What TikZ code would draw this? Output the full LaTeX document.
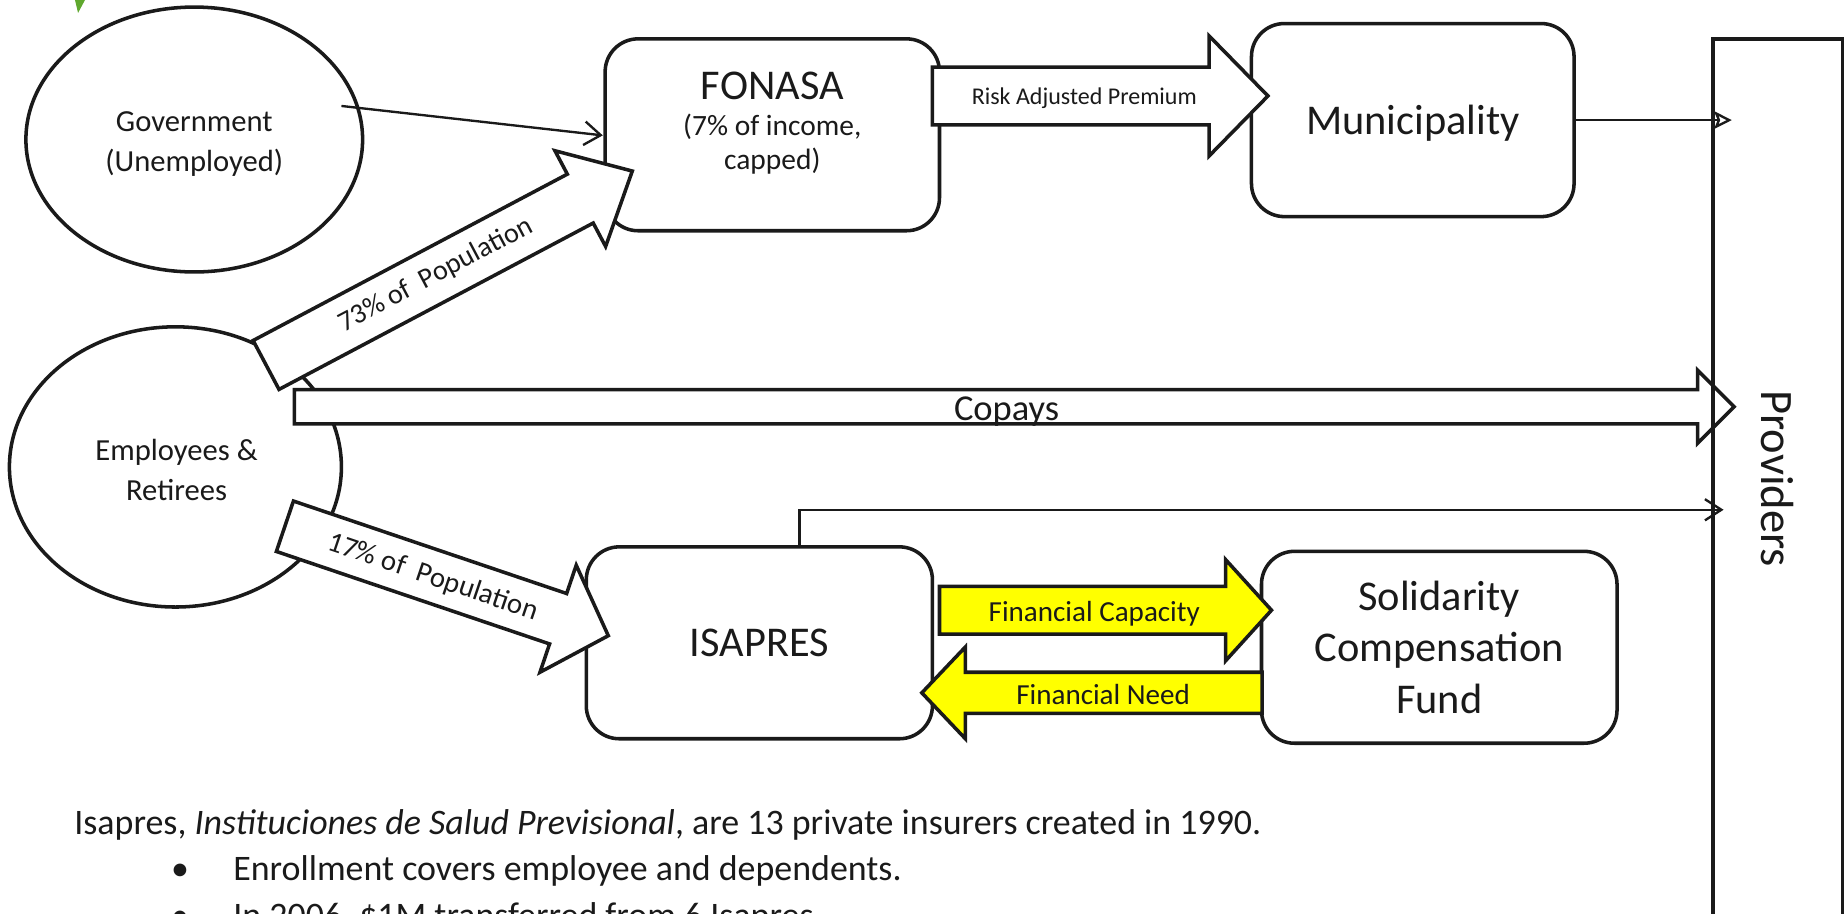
\documentclass[tikz,border=0pt]{standalone}
\usepackage{fontspec}
\setmainfont{Carlito}
\usetikzlibrary{arrows.meta,shapes.geometric}
\definecolor{ink}{HTML}{1A1A1A}
\definecolor{hiyellow}{HTML}{FFFF00}
\definecolor{leafgreen}{HTML}{5FA82E}
\newcommand{\fsz}[2]{\fontsize{#1}{#2}\selectfont}
% block arrow in local coordinates: #1 length, #2 body half width, #3 head half width, #4 head length, #5 style
\newcommand{\blockshape}[5]{%
  \draw[#5] (0,-#2) -- ({#1-#4},-#2) -- ({#1-#4},-#3) -- (#1,0) -- ({#1-#4},#3) -- ({#1-#4},#2) -- (0,#2) -- cycle;}
\begin{document}
\begin{tikzpicture}[x=1pt,y=-1pt,
  roundbox/.style={draw=ink, line width=3pt, rounded corners=28pt, fill=white, inner sep=0pt, text=ink},
  oval/.style={ellipse, draw=ink, line width=3pt, fill=white, inner sep=0pt, text=ink},
  blockarr/.style={draw=ink, line width=3pt, fill=white, line join=miter},
  yellowarr/.style={blockarr, fill=hiyellow},
  conn/.style={draw=ink, line width=2pt},
  txt/.style={inner sep=0pt, text=ink}
]
\useasboundingbox (0,0) rectangle (1568,776);
\clip (0,0) rectangle (1568,776);

% leaf tip at top-left
\fill[leafgreen] (63.7,0) -- (72.2,0) -- (66.3,11) -- cycle;

% ovals
\node[oval, minimum width=286, minimum height=225] (gov) at (165,118.5) {};
\node[txt, align=center, font=\fsz{26}{34}] (govtxt) at (165,122) {Government\\(Unemployed)};
\node[oval, minimum width=282, minimum height=238] (emp) at (149,396.6) {};
\node[txt, align=center, font=\fsz{26}{34}] (emptxt) at (150,399.5) {Employees \&\\Retirees};

% boxes
\node[roundbox, minimum width=284, minimum height=163] (fonasa) at (656,114.5) {};
\node[txt, font=\fsz{36}{42}] (fonasatitle) at (656,73) {FONASA};
\node[txt, align=center, font=\fsz{25}{29}] (fonasasub) at (656,122.5) {(7\% of income,\\capped)};

\node[roundbox, minimum width=274, minimum height=164] (muni) at (1200,102) {};
\node[txt, font=\fsz{36}{42}] (munitxt) at (1200,105) {Municipality};
\node[roundbox, minimum width=294, minimum height=163, font=\fsz{36}{42}] (isapres) at (645,546) {ISAPRES};
\node[roundbox, minimum width=302, minimum height=163, align=center, font=\fsz{36}{43.5}] (scf) at (1222.5,549.8) {Solidarity\\Compensation\\Fund};

% block arrows
\begin{scope}[shift={(792,81.5)}]
  \blockshape{285}{24.5}{51}{50}{blockarr}
  \node[txt, font=\fsz{20.4}{24}] (risk) at (129,2) {Risk Adjusted Premium};
\end{scope}

\begin{scope}[shift={(226,310)}, rotate=27.9]
  \blockshape{352}{23.5}{46}{50}{blockarr}
  \node[txt, rotate=27.9, font=\fsz{24}{28}] (p73) at (163,0) {73\% of\ \ Population};
\end{scope}

\begin{scope}[shift={(242,447)}, rotate=-18.7]
  \blockshape{290}{22.6}{48}{45}{blockarr}
  \node[txt, rotate=-18.7, font=\fsz{24.5}{28}] (p17) at (133,1) {17\% of\ \ Population};
\end{scope}

\begin{scope}[shift={(250,345.5)}]
  \blockshape{1223}{14.5}{31}{31}{blockarr}
\end{scope}
\node[txt, anchor=base, font=\fsz{31}{36}] (copays) at (855,357.5) {Copays};

\begin{scope}[shift={(798,518.3)}]
  \blockshape{282}{20.3}{43}{39}{yellowarr}
\end{scope}
\node[txt, font=\fsz{24.7}{29}] (fincap) at (929.5,521.5) {Financial Capacity};

\begin{scope}[shift={(1072,588.5)}, rotate=180]
  \blockshape{289}{17.5}{39}{37}{yellowarr}
\end{scope}
\node[txt, font=\fsz{24.7}{29}] (finneed) at (937,590) {Financial Need};

% thin connectors
\coordinate (govout) at (290,90);
\coordinate (fonin) at (512,115);
\draw[conn, -{Straight Barb[length=14pt,width=20pt]}] (govout) -- (fonin);

\coordinate (provmuni) at (1471,102);
\draw[conn, -{Stealth[open,length=15pt,width=15pt,inset=3pt]}] (muni.east) -- (muni.east -| provmuni);

\coordinate (provisa) at (1464,433);
\draw[conn, -{Straight Barb[length=14pt,width=18pt]}] ([xshift=34pt]isapres.north) |- (provisa);

% providers
\node[draw=ink, line width=3pt, rotate=-90, minimum width=747, minimum height=110, inner sep=0pt, text=ink, font=\fsz{39.5}{46}] (prov) at (1510,406.5) {Providers};

% bottom text
\node[txt, anchor=base west, font=\fsz{30.5}{36}] (line1) at (63,709) {Isapres, \textit{Instituciones de Salud Previsional}, are 13 private insurers created in 1990.};
\node[txt, anchor=base, font=\fsz{30.5}{36}] (bul1) at (153,748) {•};
\node[txt, anchor=base west, font=\fsz{30.5}{36}] (line2) at (198,748) {Enrollment covers employee and dependents.};
\node[txt, anchor=base, font=\fsz{30.5}{36}] (bul2) at (153,788) {•};
\node[txt, anchor=base west, font=\fsz{30.5}{36}] (line3) at (198,788) {In 2006, \$1M transferred from 6 Isapres.};
\end{tikzpicture}
\end{document}
